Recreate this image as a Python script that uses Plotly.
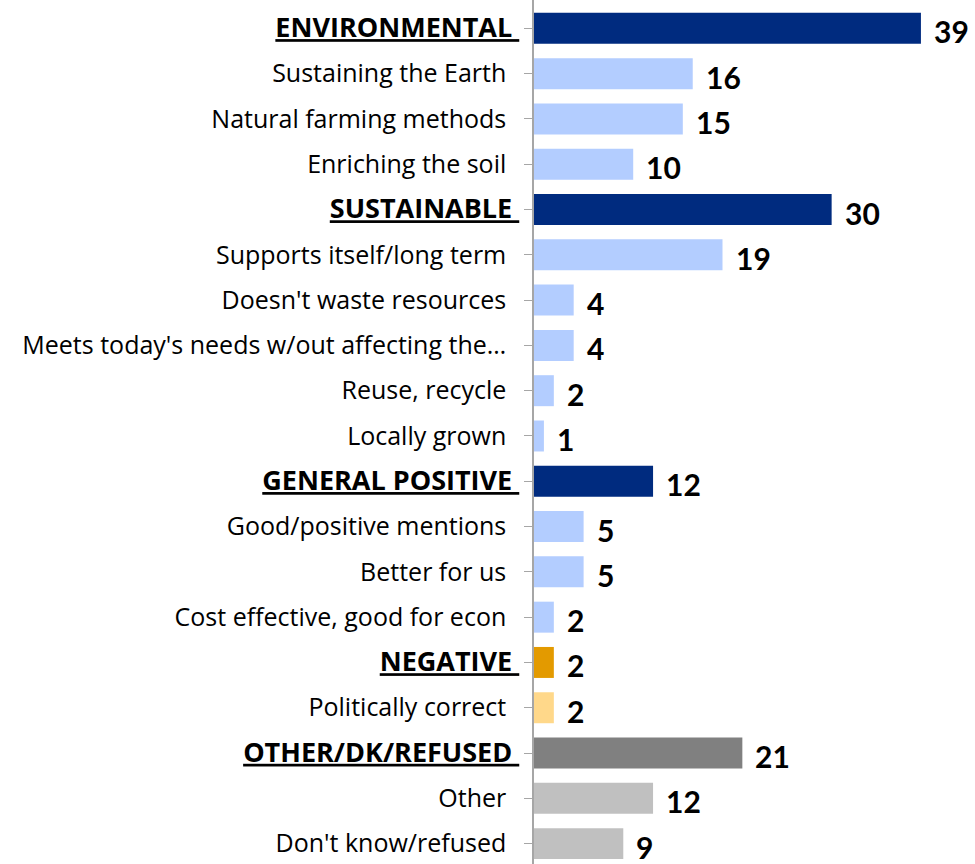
import plotly.graph_objects as go

categories = ["ENVIRONMENTAL", "Sustaining the Earth", "Natural farming methods", "Enriching the soil",
              "SUSTAINABLE", "Supports itself/long term", "Doesn't waste resources",
              "Meets today's needs w/out affecting the…", "Reuse, recycle", "Locally grown",
              "GENERAL POSITIVE", "Good/positive mentions", "Better for us", "Cost effective, good for econ",
              "NEGATIVE", "Politically correct",
              "OTHER/DK/REFUSED", "Other", "Don't know/refused"]
values = [39, 16, 15, 10, 30, 19, 4, 4, 2, 1, 12, 5, 5, 2, 2, 2, 21, 12, 9]
is_header = [True, False, False, False, True, False, False, False, False, False,
             True, False, False, False, True, False, True, False, False]
groups = ["env", "env", "env", "env", "sus", "sus", "sus", "sus", "sus", "sus",
          "gen", "gen", "gen", "gen", "neg", "neg", "oth", "oth", "oth"]

header_colors = {"env": "#002B7F", "sus": "#002B7F", "gen": "#002B7F", "neg": "#E39A00", "oth": "#808080"}
sub_colors = {"env": "#B3CDFF", "sus": "#B3CDFF", "gen": "#B3CDFF", "neg": "#FFD88A", "oth": "#C0C0C0"}
colors = [header_colors[g] if h else sub_colors[g] for g, h in zip(groups, is_header)]

ticktext = [
    f'<span style="font-size:27px"><b><u>{c}\u00a0</u></b></span>' if h else c + "\u00a0\u00a0"
    for c, h in zip(categories, is_header)
]
idx = list(range(len(categories)))

fig = go.Figure(go.Bar(
    y=idx, x=values, orientation="h", marker=dict(color=colors, line=dict(width=0)),
    hoverinfo="skip",
))

for i, v in zip(idx, values):
    fig.add_annotation(x=v, y=i, text=f"<b>{v}</b>", showarrow=False, xanchor="left", yanchor="middle",
                       xshift=11, yshift=-3, font=dict(family="Lato", size=30, color="black"))

fig.update_layout(
    width=975, height=864,
    margin=dict(l=534, r=0, t=0, b=0),
    paper_bgcolor="white", plot_bgcolor="white",
    bargap=0.316, showlegend=False,
    font=dict(family="Open Sans", size=25, color="black"),
)
fig.update_xaxes(range=[0, 44.45], visible=False)
fig.update_yaxes(
    tickmode="array", tickvals=idx, ticktext=ticktext,
    range=[18.45, -0.626],
    showline=True, linecolor="#A6A6A6", linewidth=1.5,
    ticks="outside", ticklen=8, tickcolor="#A6A6A6",
    showgrid=False, zeroline=False,
    ticklabelstandoff=0, automargin=False,
)
fig.write_html("out.html", config={"displayModeBar": False},
               post_script="document.body.style.margin='0';document.body.style.overflow='hidden';")
